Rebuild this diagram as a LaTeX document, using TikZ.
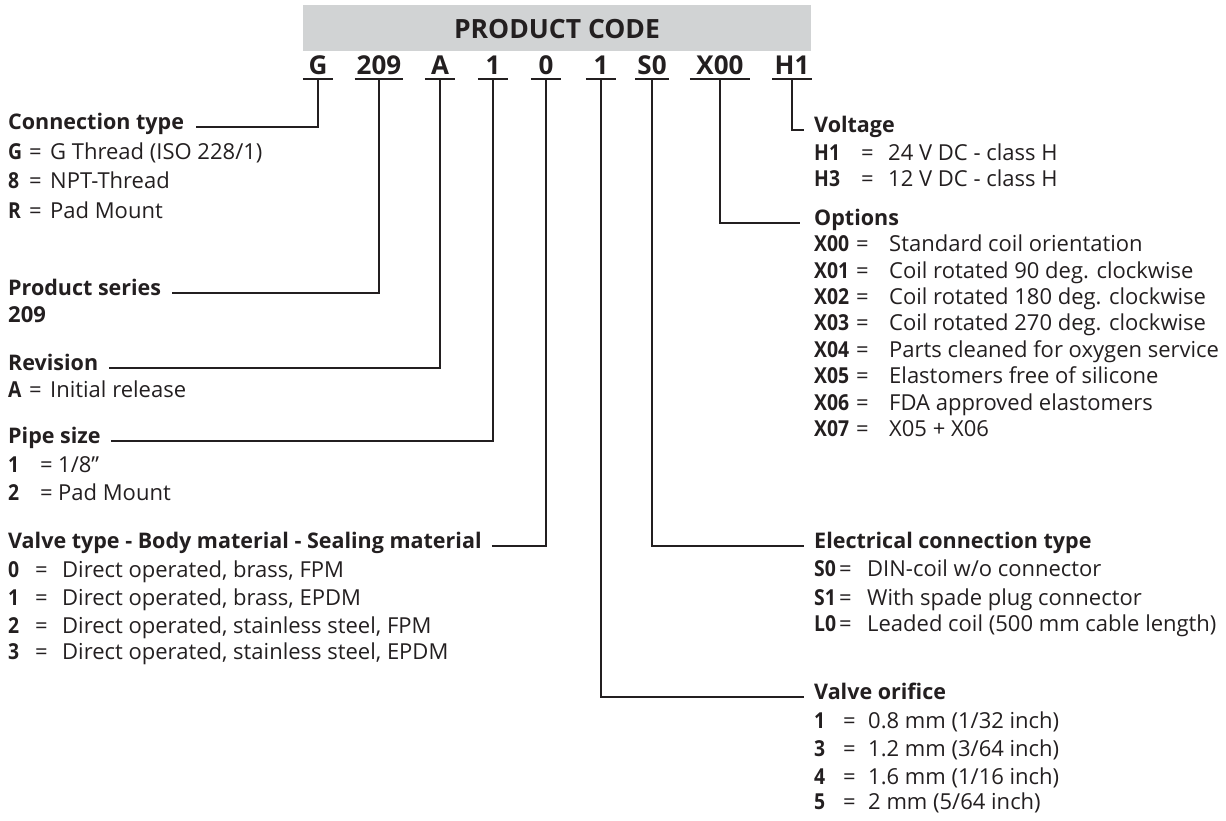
\documentclass[tikz,border=0pt]{standalone}
\usepackage{fontspec}
\setmainfont{Open Sans}
\newfontfamily\keyfont{Open Sans}[FakeStretch=0.88]
\usetikzlibrary{positioning}
\definecolor{ink}{RGB}{35,31,32}
\definecolor{codegray}{RGB}{209,211,212}
% key, "=" and value at fixed offsets
\newcommand\kv[4]{\makebox[#1pt][l]{\keyfont\bfseries #3}\makebox[#2pt][l]{=}#4}
\begin{document}
\begin{tikzpicture}
  [
    x=1pt, y=-1pt,
    every node/.style={inner sep=0pt, text=ink, font=\fontsize{22}{24}\selectfont},
    code/.style={font=\fontsize{26}{30}\selectfont\bfseries, inner xsep=2pt, inner ysep=4pt,
      minimum width=30pt, text depth=0pt, anchor=base},
    head/.style={font=\fontsize{21.5}{24}\selectfont\bfseries, anchor=mid west},
    item/.style={anchor=mid west},
    link/.style={draw=ink, line width=1.8pt}
  ]
  \useasboundingbox (0,0) rectangle (1226,821);

  % product code bar
  \fill[codegray] (303,5) rectangle (811,51);
  \node[code, inner ysep=0pt, font=\fontsize{26.5}{30}\selectfont\bfseries] (title) at (557,39) {PRODUCT CODE};
  \node[code] (cG) at (318,75) {G};
  \node[code] (cSer) at (379,75) {209};
  \node[code] (cRev) at (440,75) {A};
  \node[code] (cPipe) at (493,75) {1};
  \node[code] (cValve) at (546,75) {0};
  \node[code] (cOrif) at (601,75) {1};
  \node[code] (cElec) at (652,75) {S0};
  \node[code, minimum width=60pt] (cOpt) at (720,75) {X00};
  \node[code, minimum width=38pt] (cVolt) at (792,75) {H1};
  \foreach \c in {cG,cSer,cRev,cPipe,cValve,cOrif,cElec,cOpt,cVolt}
    \draw[link] (\c.south west) -- (\c.south east);

  % left column
  \node[head] (hConn) at (8,127) {Connection type};
  \node[item] at (8,157) {\kv{21}{21}{G}{G Thread (ISO 228/1)}};
  \node[item] at (8,186) {\kv{21}{21}{8}{NPT-Thread}};
  \node[item] at (8,216) {\kv{21}{21}{R}{Pad Mount}};

  \node[head] (hSer) at (8,293) {Product series};
  \node[item] at (8,320) {\bfseries 209};

  \node[head] (hRev) at (8,368) {Revision};
  \node[item] at (8,395) {\kv{21}{21}{A}{Initial release}};

  \node[head] (hPipe) at (8,441) {Pipe size};
  \node[item] at (8,470) {\kv{32}{18}{1}{1/8”}};
  \node[item] at (8,498) {\kv{32}{18}{2}{Pad Mount}};

  \node[head] (hValve) at (8,546) {Valve type - Body material - Sealing material};
  \node[item] at (8,575) {\kv{27}{27}{0}{Direct operated, brass, FPM}};
  \node[item] at (8,603) {\kv{27}{27}{1}{Direct operated, brass, EPDM}};
  \node[item] at (8,631) {\kv{27}{27}{2}{Direct operated, stainless steel, FPM}};
  \node[item] at (8,657) {\kv{27}{27}{3}{Direct operated, stainless steel, EPDM}};

  % right column
  \node[head] (hVolt) at (814,130) {Voltage};
  \node[item] at (814,158) {\kv{47}{27}{H1}{24 V DC - class H}};
  \node[item] at (814,184) {\kv{47}{27}{H3}{12 V DC - class H}};

  \node[head] (hOpt) at (814,223) {Options};
  \node[item] at (814,249) {\kv{42}{33}{X00}{Standard coil orientation}};
  \node[item] at (814,276) {\kv{42}{33}{X01}{Coil rotated 90 deg. clockwise}};
  \node[item] at (814,302) {\kv{42}{33}{X02}{Coil rotated 180 deg. clockwise}};
  \node[item] at (814,328) {\kv{42}{33}{X03}{Coil rotated 270 deg. clockwise}};
  \node[item] at (814,355) {\kv{42}{33}{X04}{Parts cleaned for oxygen service}};
  \node[item] at (814,381) {\kv{42}{33}{X05}{Elastomers free of silicone}};
  \node[item] at (814,408) {\kv{42}{33}{X06}{FDA approved elastomers}};
  \node[item] at (814,434) {\kv{42}{33}{X07}{X05 + X06}};

  \node[head] (hElec) at (814,546) {Electrical connection type};
  \node[item] at (814,574) {\kv{25}{28}{S0}{DIN-coil w/o connector}};
  \node[item] at (814,603) {\kv{25}{28}{S1}{With spade plug connector}};
  \node[item] at (814,629) {\kv{25}{28}{L0}{Leaded coil (500 mm cable length)}};

  \node[head] (hOrif) at (814,697) {Valve orifice};
  \node[item] at (814,726) {\kv{29}{25}{1}{0.8 mm (1/32 inch)}};
  \node[item] at (814,754) {\kv{29}{25}{3}{1.2 mm (3/64 inch)}};
  \node[item] at (814,782) {\kv{29}{25}{4}{1.6 mm (1/16 inch)}};
  \node[item] at (814,807) {\kv{29}{25}{5}{2 mm (5/64 inch)}};

  % connectors
  \draw[link] ([xshift=12pt]hConn.mid east) -| (cG.south);
  \draw[link] ([xshift=11pt]hSer.mid east) -| (cSer.south);
  \draw[link] ([xshift=11pt]hRev.mid east) -| (cRev.south);
  \draw[link] ([xshift=10pt]hPipe.mid east) -| (cPipe.south);
  \draw[link] ([xshift=10pt]hValve.mid east) -| (cValve.south);
  \draw[link] (cOrif.south) |- ([xshift=-10pt]hOrif.mid west);
  \draw[link] (cElec.south) |- ([xshift=-10pt]hElec.mid west);
  \draw[link] (cOpt.south) |- ([xshift=-14pt]hOpt.mid west);
  \draw[link] (cVolt.south) |- ([xshift=-10pt]hVolt.mid west);
\end{tikzpicture}
\end{document}
